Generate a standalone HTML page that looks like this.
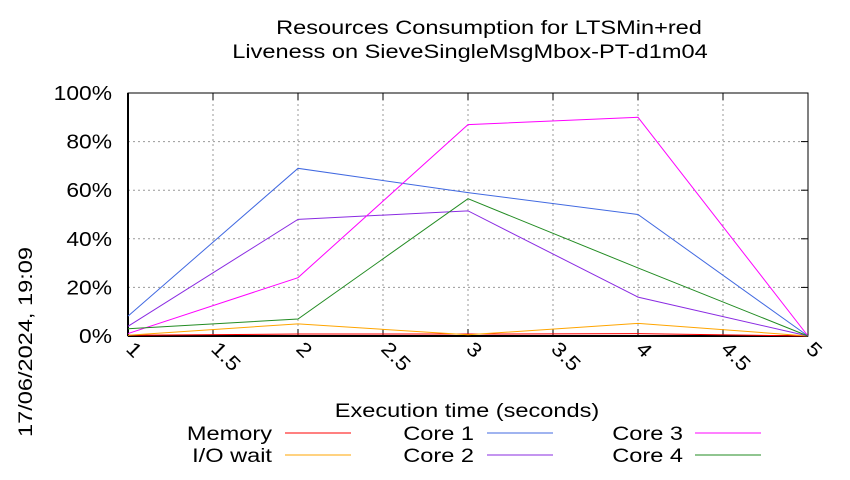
<!DOCTYPE html>
<html><head><meta charset="utf-8"><style>
body{margin:0;background:#fff;}
svg{font-family:"Liberation Sans",sans-serif;}
</style></head><body>
<svg id="chart" width="850" height="475" xmlns="http://www.w3.org/2000/svg">
<rect width="850" height="475" fill="#fff"/>
<text class="wide" x="489" y="34" font-size="19" text-anchor="middle">Resources Consumption for LTSMin+red</text>
<text class="wide" x="470" y="58" font-size="19" text-anchor="middle">Liveness on SieveSingleMsgMbox-PT-d1m04</text>
<text class="wide" transform="translate(32,342) rotate(-90)" font-size="19" text-anchor="middle">17/06/2024, 19:09</text>
<text class="wide" x="467" y="417" font-size="19" text-anchor="middle">Execution time (seconds)</text>
<g id="grid"></g><g id="series"></g><g id="legend"></g>
</svg>
<script>
const xValues=[1,2,3,4,5];
const memory=[0.3,0.8,0.8,1,0];
const ioWait=[0.3,5,0.5,5.2,0];
const core1=[8.2,69,59,50,0];
const core2=[4,48,51.5,16,0];
const core3=[1,24,87,90,0];
const core4=[3,7,56.5,28,0];
const xTicks=[1,1.5,2,2.5,3,3.5,4,4.5,5];
const yTicks=[0,20,40,60,80,100];
const NS="http://www.w3.org/2000/svg";
const X0=128,X1=808,Y0=336,Y1=93;
const xs=v=>X0+(v-1)/4*(X1-X0);
const ys=v=>Y0-v/100*(Y0-Y1);
function mk(t,a,p){const e=document.createElementNS(NS,t);for(const k in a)e.setAttribute(k,a[k]);p.appendChild(e);return e;}
function widen(t,r){const L=t.getComputedTextLength();t.setAttribute('textLength',L*r);t.setAttribute('lengthAdjust','spacingAndGlyphs');}
document.querySelectorAll('text.wide').forEach(t=>widen(t,1.24));
const g=document.getElementById('grid');
yTicks.forEach(v=>{
 const l=mk('line',{x1:X0,x2:X1,y1:ys(v),y2:ys(v),stroke:'#999','stroke-dasharray':'2,3','stroke-width':1},g);
 
 
 const tk=mk('line',{x1:X1-7,x2:X1,y1:ys(v),y2:ys(v),stroke:'#000'},g);
 
 
 const t=mk('text',{x:X0-16,y:ys(v)+7,'font-size':20,'text-anchor':'end'},g);
 t.textContent=v+'%';
 
 
 widen(t,1.14);
});
xTicks.forEach(v=>{
 const l=mk('line',{x1:xs(v),x2:xs(v),y1:Y0,y2:Y1,stroke:'#999','stroke-dasharray':'2,3','stroke-width':1},g);
 
 
 const tk=mk('line',{x1:xs(v),x2:xs(v),y1:Y0,y2:Y0-7,stroke:'#000'},g);
 
 
 const tk2=mk('line',{x1:xs(v),x2:xs(v),y1:Y1,y2:Y1+7,stroke:'#000'},g);
 
 
 const t=mk('text',{transform:`translate(${xs(v)-3},${Y0+14}) rotate(45)`,'font-size':20},g);
 t.textContent=String(v);
 
 
 widen(t,1.14);
});
const fr=mk('rect',{x:X0,y:Y1,width:X1-X0,height:Y0-Y1,fill:'none',stroke:'#000','stroke-width':1},g);


const ax=mk('line',{x1:X0,x2:X1,y1:Y0,y2:Y0,stroke:'#000','stroke-width':2},g);


const ax2=mk('line',{x1:X0,x2:X0,y1:Y0,y2:Y1,stroke:'#000','stroke-width':2},g);


const series=[
 ['Memory',memory,'#ff0000',272,285,433],
 ['I/O wait',ioWait,'#ffa500',272,285,455],
 ['Core 1',core1,'#4169e1',474,487,433],
 ['Core 2',core2,'#8a2be2',474,487,455],
 ['Core 3',core3,'#ff00ff',683,695,433],
 ['Core 4',core4,'#228b22',683,695,455]];
const sg=document.getElementById('series'),lg=document.getElementById('legend');
series.forEach(([name,vals,col,tx,lx,ly])=>{
 const slug=name.toLowerCase().replace(/[^a-z0-9]+/g,'-');
 const p=mk('polyline',{points:vals.map((v,i)=>xs(xValues[i])+','+ys(v)).join(' '),fill:'none',stroke:col,'stroke-width':1},sg);
 
 
 const t=mk('text',{x:tx,y:ly+7,'font-size':19,'text-anchor':'end'},lg);
 t.textContent=name;
 
 
 widen(t,1.24);
 const l=mk('line',{x1:lx,x2:lx+66,y1:ly,y2:ly,stroke:col,'stroke-width':1},lg);
 
 
});
</script>
</body></html>
